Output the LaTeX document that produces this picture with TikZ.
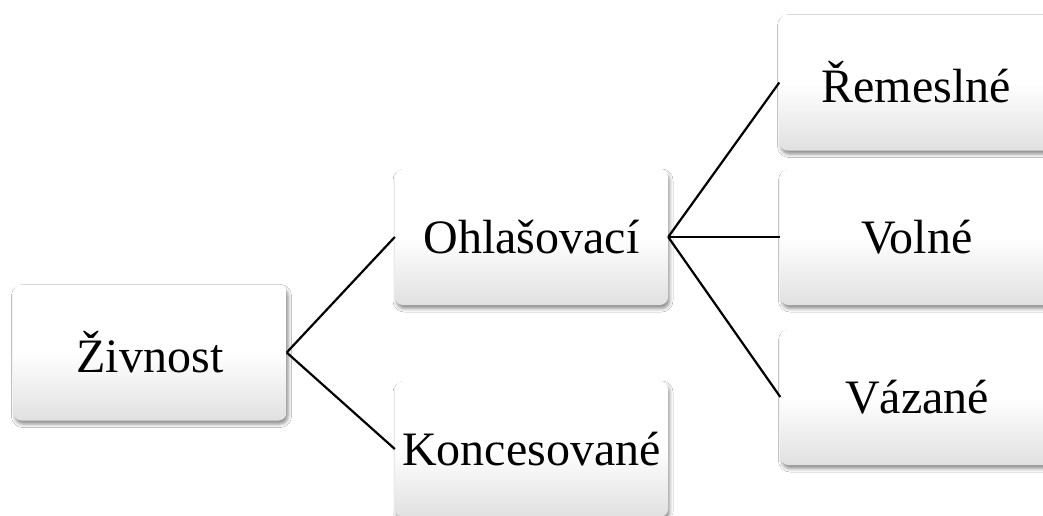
\documentclass[tikz,border=0pt]{standalone}
\usepackage{fontspec}
\setmainfont{Liberation Serif}
\usetikzlibrary{shadows.blur}
\pgfdeclareverticalshading{boxshade}{100bp}{color(0bp)=(black!12); color(25bp)=(black!12); color(50bp)=(white); color(75bp)=(white); color(100bp)=(white)}
\begin{document}
\begin{tikzpicture}[x=1pt,y=-1pt,
  box/.style={rectangle, rounded corners=8pt, minimum width=273pt, minimum height=136pt,
    inner sep=0pt, shading=boxshade,
    blur shadow={shadow xshift=1.5pt, shadow yshift=-3.5pt, shadow blur radius=3.5pt, shadow opacity=45},
    font=\fontsize{48}{58}\selectfont},
  link/.style={line width=2.2pt, black}]
\clip (0,0) rectangle (1043,515);
\fill[white] (0,0) rectangle (1043,515);
\node[box] (ziv) at (150,352.5) {Živnost};
\node[box] (ohl) at (531.5,237) {Ohlašovací};
\node[box] (kon) at (531.5,449) {Koncesované};
\node[box] (rem) at (916,82.5) {Řemeslné};
\node[box] (vol) at (917,237) {Volné};
\node[box] (vaz) at (917,397) {Vázané};
\draw[link] (ziv.east) -- (ohl.west);
\draw[link] (ziv.east) -- (kon.west);
\draw[link] (ohl.east) -- (rem.west);
\draw[link] (ohl.east) -- (vol.west);
\draw[link] (ohl.east) -- (vaz.west);
\end{tikzpicture}
\end{document}
